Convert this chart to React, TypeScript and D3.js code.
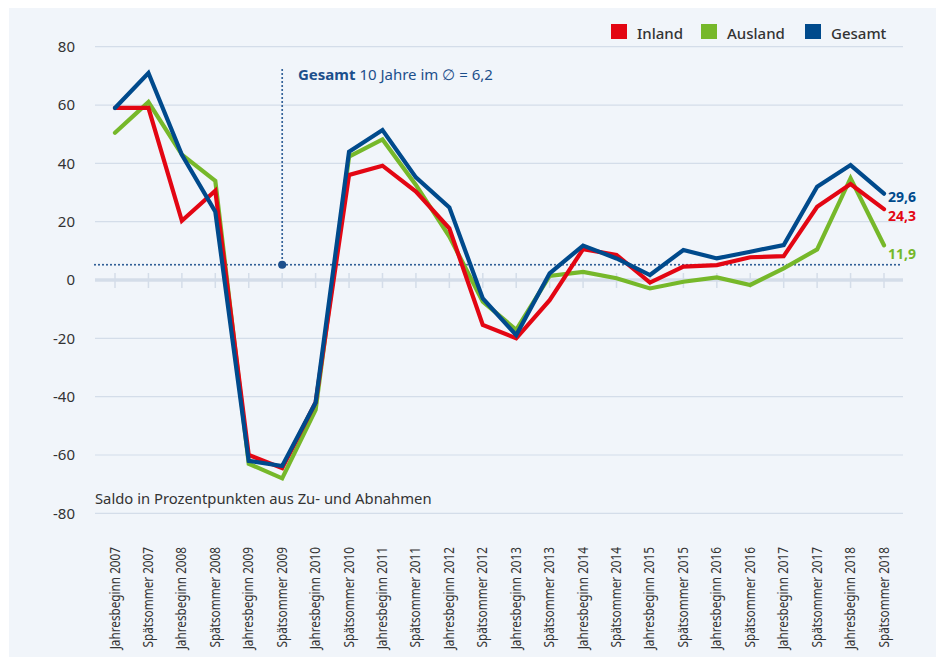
import React from "react";
import * as d3 from "d3";

const categories = [
  "Jahresbeginn 2007", "Spätsommer 2007", "Jahresbeginn 2008", "Spätsommer 2008",
  "Jahresbeginn 2009", "Spätsommer 2009", "Jahresbeginn 2010", "Spätsommer 2010",
  "Jahresbeginn 2011", "Spätsommer 2011", "Jahresbeginn 2012", "Spätsommer 2012",
  "Jahresbeginn 2013", "Spätsommer 2013", "Jahresbeginn 2014", "Spätsommer 2014",
  "Jahresbeginn 2015", "Spätsommer 2015", "Jahresbeginn 2016", "Spätsommer 2016",
  "Jahresbeginn 2017", "Spätsommer 2017", "Jahresbeginn 2018", "Spätsommer 2018",
];

const inland = [59, 59, 20.3, 30.6, -60, -64.5, -42, 36, 39.2, 30.3, 17.7, -15.4, -20, -6.9, 10.6, 8.6, -0.9, 4.6, 5.1, 7.8, 8.2, 25.1, 32.9, 24.3];
const ausland = [50.5, 61, 43, 34, -63, -68, -44.5, 42.3, 48.2, 32.6, 14.9, -7.4, -17.1, 1.4, 2.8, 0.6, -2.9, -0.6, 0.9, -1.7, 4, 10.5, 34.9, 11.9];
const gesamt = [59, 71, 42.9, 23.4, -62, -63.8, -42, 44, 51.4, 35.2, 24.9, -6.3, -18.9, 2.3, 11.8, 7.4, 1.7, 10.3, 7.4, 9.7, 12, 32, 39.4, 29.6];

const yTicks = [-80, -60, -40, -20, 0, 20, 40, 60, 80];
const avgDrawn = 5.2; // position of the dotted average line
const avgLabel = "10 Jahre im ∅ = 6,2";
const avgIndex = 5;

const seriesNames = ["Inland", "Ausland", "Gesamt"];
const endLabels = ["24,3", "11,9", "29,6"];

const COLORS = ["#e30613", "#76b82a", "#004a8c"];
const FONT = "'Noto Sans', 'Open Sans', sans-serif";
const GRID = "#d4dde9";
const TEXT = "#333333";
const ANNO = "#1c4f8c";

export default function App() {
  const x = d3.scalePoint<string>().domain(categories).range([115, 884]);
  const y = d3.scaleLinear().domain([-80, 80]).range([513.3, 46.7]);
  const line = d3
    .line<number>()
    .x((_, i) => x(categories[i]) as number)
    .y((d) => y(d));
  const series = [inland, ausland, gesamt];
  const drawOrder = [1, 0, 2];
  const labelDy = [7, 9, 3];
  const gridX0 = 95;
  const gridX1 = 903;
  const avgY = y(avgDrawn);
  const vx = x(categories[avgIndex]) as number;

  const legendX = [611, 701, 805];

  return (
    <svg
      width={936}
      height={657}
      style={{ position: "fixed", left: 0, top: 0, display: "block" }}
      fontFamily={FONT}
    >
      <rect x={0} y={0} width={936} height={657} fill="#ffffff" />
      <rect x={9} y={8} width={927} height={649} fill="#f1f5fa" />

      {/* grid */}
      {yTicks.filter((t) => t !== 0).map((t) => (
        <line key={t} x1={gridX0} x2={gridX1} y1={y(t)} y2={y(t)} stroke={GRID} strokeWidth={1.2} />
      ))}
      <line x1={gridX0} x2={gridX1} y1={y(0)} y2={y(0)} stroke={GRID} strokeWidth={3.5} />
      {categories.map((c) => (
        <line key={c} x1={x(c)} x2={x(c)} y1={y(0) - 7} y2={y(0) + 8} stroke={GRID} strokeWidth={1.5} />
      ))}

      {/* y labels */}
      {yTicks.map((t) => (
        <text key={t} x={75} y={y(t)} dy="0.35em" textAnchor="end" fontSize={15} fill={TEXT}>
          {t < 0 ? "-" + Math.abs(t) : String(t)}
        </text>
      ))}

      {/* x labels (condensed to emulate the narrow original face) */}
      {categories.map((c) => (
        <text
          key={c}
          transform={`translate(${(x(c) as number) + 4.5},547) rotate(-90) scale(0.87,1)`}
          textAnchor="end"
          fontSize={13.5}
          fill={TEXT}
        >
          {c}
        </text>
      ))}

      <text x={95} y={504} fontSize={14.8} fill={TEXT}>
        Saldo in Prozentpunkten aus Zu- und Abnahmen
      </text>

      {/* average line */}
      <line x1={gridX0} x2={gridX1} y1={avgY} y2={avgY} stroke={ANNO} strokeWidth={2} strokeDasharray="0,4" strokeLinecap="round" />
      <line x1={vx} x2={vx} y1={70} y2={avgY} stroke={ANNO} strokeWidth={2} strokeDasharray="0,4" strokeLinecap="round" />
      <circle cx={vx} cy={avgY} r={4} fill={ANNO} />
      <text x={298} y={80} fontSize={15} fill={ANNO}>
        <tspan fontWeight={700}>Gesamt</tspan>
        <tspan> {avgLabel}</tspan>
      </text>

      {/* lines */}
      {drawOrder.map((k) => (
        <path
          key={k}
          d={line(series[k]) as string}
          fill="none"
          stroke={COLORS[k]}
          strokeWidth={4.2}
          strokeLinejoin="miter"
          strokeLinecap="round"
        />
      ))}

      {/* end labels */}
      {series.map((s, k) => (
        <text
          key={k}
          x={888}
          y={y(s[s.length - 1]) + labelDy[k]}
          dy="0.35em"
          fontSize={14}
          fontWeight={700}
          fill={COLORS[k]}
        >
          {endLabels[k]}
        </text>
      ))}

      {/* legend */}
      {seriesNames.map((n, k) => (
        <g key={n}>
          <rect x={legendX[k]} y={24} width={16} height={15} fill={COLORS[k]} />
          <text x={legendX[k] + 26} y={39} fontSize={15} fontWeight={500} fill={TEXT}>
            {n}
          </text>
        </g>
      ))}
    </svg>
  );
}
